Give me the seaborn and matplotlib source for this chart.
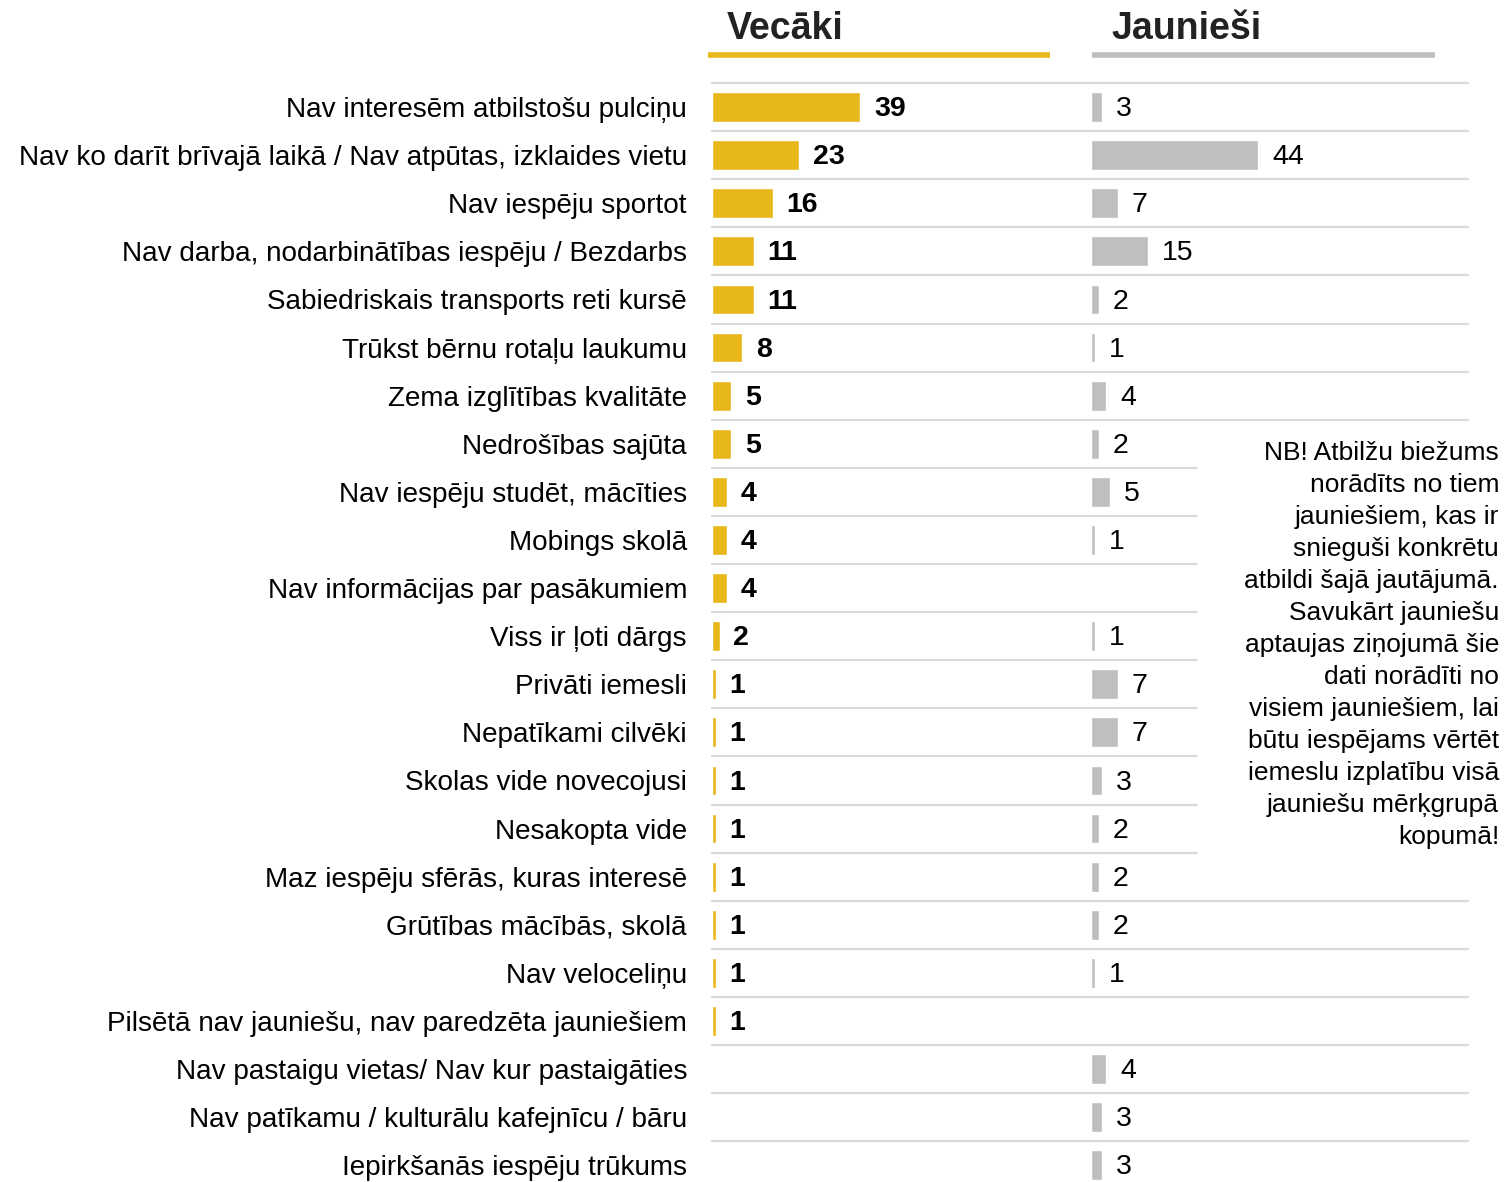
import pandas as pd
import numpy as np
import matplotlib
matplotlib.use('Agg')
import matplotlib.pyplot as plt
from matplotlib.lines import Line2D
import seaborn as sns

# Data
categories = [
    'Nav interesēm atbilstošu pulciņu',
    'Nav ko darīt brīvajā laikā / Nav atpūtas, izklaides vietu',
    'Nav iespēju sportot',
    'Nav darba, nodarbinātības iespēju / Bezdarbs',
    'Sabiedriskais transports reti kursē',
    'Trūkst bērnu rotaļu laukumu',
    'Zema izglītības kvalitāte',
    'Nedrošības sajūta',
    'Nav iespēju studēt, mācīties',
    'Mobings skolā',
    'Nav informācijas par pasākumiem',
    'Viss ir ļoti dārgs',
    'Privāti iemesli',
    'Nepatīkami cilvēki',
    'Skolas vide novecojusi',
    'Nesakopta vide',
    'Maz iespēju sfērās, kuras interesē',
    'Grūtības mācībās, skolā',
    'Nav veloceliņu',
    'Pilsētā nav jauniešu, nav paredzēta jauniešiem',
    'Nav pastaigu vietas/ Nav kur pastaigāties',
    'Nav patīkamu / kulturālu kafejnīcu / bāru',
    'Iepirkšanās iespēju trūkums',
]
vecaki = [39, 23, 16, 11, 11, 8, 5, 5, 4, 4, 4, 2, 1, 1, 1, 1, 1, 1, 1, 1,
          np.nan, np.nan, np.nan]
jauniesi = [3, 44, 7, 15, 2, 1, 4, 2, 5, 1, np.nan, 1, 7, 7, 3, 2, 2, 2, 1,
            np.nan, 4, 3, 3]
panel_titles = ['Vecāki', 'Jaunieši']
note = ('NB! Atbilžu biežums\nnorādīts no tiem\njauniešiem, kas ir\n'
        'snieguši konkrētu\natbildi šajā jautājumā.\nSavukārt jauniešu\n'
        'aptaujas ziņojumā šie\ndati norādīti no\nvisiem jauniešiem, lai\n'
        'būtu iespējams vērtēt\niemeslu izplatību visā\njauniešu mērķgrupā\n'
        'kopumā!')

df = pd.DataFrame({'kategorija': categories, 'vecaki': vecaki, 'jauniesi': jauniesi})

GOLD = '#E8B71A'
GRAY = '#BFBFBF'
LINE = '#DADADA'
REG = ['Liberation Sans', 'DejaVu Sans']

sns.set_style('white')
plt.rcParams['font.family'] = REG
plt.rcParams['text.color'] = 'black'
plt.rcParams['ytick.color'] = 'black'

W, H = 1509, 1182
fig = plt.figure(figsize=(W / 100, H / 100), dpi=100)

top_px = 83
ax_h = (H - top_px) / H
ax_l = fig.add_axes([712 / W, 0, 379 / W, ax_h])
ax_r = fig.add_axes([1091 / W, 0, 377 / W, ax_h])
px_per_unit = 3.8

n = len(categories)
row_px = 48.1
y_bottom = (n - 1) + (H - (top_px + row_px * (n - 0.5))) / row_px

for ax, col, color, bold in [(ax_l, 'vecaki', GOLD, True), (ax_r, 'jauniesi', GRAY, False)]:
    sub = df.dropna(subset=[col])
    sns.barplot(data=sub, x=col, y='kategorija', order=categories, orient='h',
                color=color, width=0.62, saturation=1, ax=ax)
    labels = ax.bar_label(ax.containers[0], fmt='%d', padding=10, fontsize=20.5,
                          fontweight='bold' if bold else 'normal', color='black')
    for t in labels:
        t.set_va('center')
        t.set_position((t.get_position()[0], t.get_position()[1] - 1.5))
    width_px = ax.get_position().width * W
    ax.set_xlim(0, width_px / px_per_unit)
    ax.set_ylim(y_bottom, -0.5)
    ax.set_xlabel('')
    ax.set_ylabel('')
    ax.set_xticks([])
    sns.despine(ax=ax, left=True, bottom=True)

# horizontal separators (shorter ones beside the note)
short_end = (1197 - 1091) / 377
for k in range(n):
    y = k - 0.5
    ax_l.axhline(y, color=LINE, lw=1.6, clip_on=False, zorder=0)
    xmax = short_end if 8 <= k <= 16 else 1
    ax_r.axhline(y, xmax=xmax, color=LINE, lw=1.6, clip_on=False, zorder=0)

ax_l.tick_params(axis='y', length=0, pad=18)
ax_l.set_yticks(range(n))
ax_l.set_yticklabels(categories, fontsize=20.1, family=REG, color='black')
ax_r.set_yticks([])

# panel headings with underline
for title, x0, x1, color in [(panel_titles[0], 708, 1050, GOLD), (panel_titles[1], 1092, 1435, GRAY)]:
    fig.text((x0 + 19) / W, 1 - 29 / H, title, fontsize=27, fontweight='bold',
             va='center', ha='left', color='#222222')
    fig.add_artist(Line2D([x0 / W, x1 / W], [1 - 55 / H, 1 - 55 / H],
                          color=color, lw=4, solid_capstyle='butt'))

fig.text(1499 / W, 1 - 645 / H, note, fontsize=19, ha='right', va='center',
         multialignment='right', linespacing=1.42, color='black')

fig.savefig('out.png', dpi=100)
